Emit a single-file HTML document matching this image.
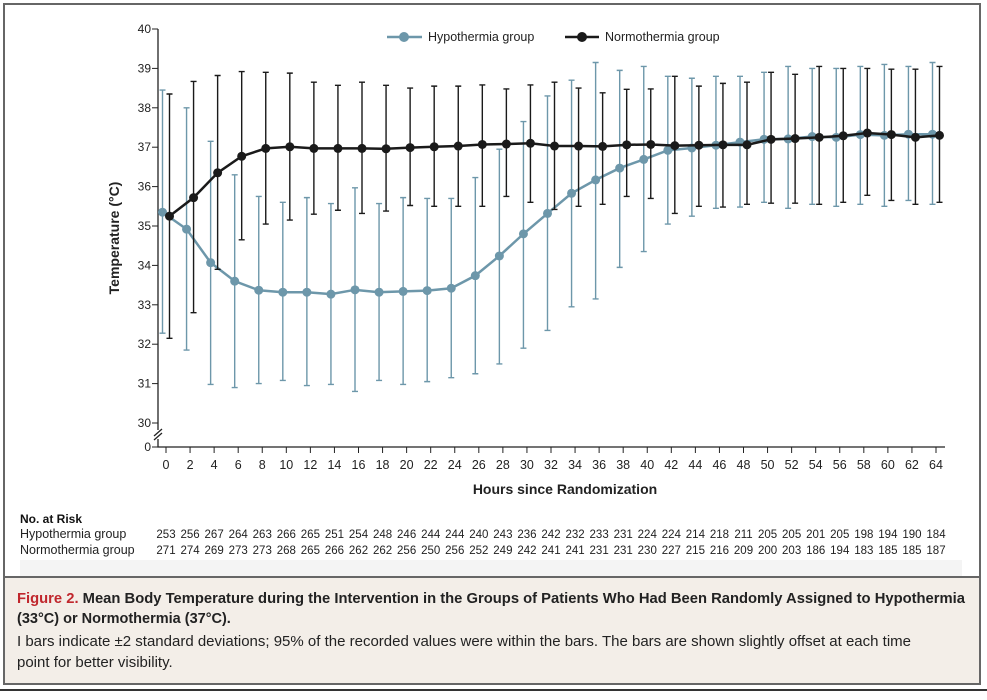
<!DOCTYPE html>
<html><head><meta charset="utf-8"><style>
html,body{margin:0;padding:0;background:#fff;}
body{width:987px;height:695px;overflow:hidden;font-family:"Liberation Sans",sans-serif;}
</style></head><body>
<svg id="chart" width="987" height="695" viewBox="0 0 987 695" xmlns="http://www.w3.org/2000/svg" font-family="Liberation Sans, sans-serif">
<rect x="4" y="4" width="976" height="680" fill="#fff" stroke="#666" stroke-width="2"/>
<rect x="20" y="560" width="942" height="16" fill="#f4f4f4"/>
<rect x="4" y="577" width="976" height="107" fill="#f3eee8" stroke="#666" stroke-width="2"/>
<line x1="0" y1="690" x2="987" y2="690" stroke="#333" stroke-width="2"/>
<g id="plot"></g>
<text x="20" y="523" font-size="12" font-weight="bold" fill="#111">No. at Risk</text>
<text x="20" y="538" font-size="12.5" fill="#222">Hypothermia group</text>
<text x="20" y="554" font-size="12.5" fill="#222">Normothermia group</text>
<text x="17" y="603" font-size="14.5" font-weight="bold" fill="#222" textLength="948" lengthAdjust="spacingAndGlyphs"><tspan fill="#c0272d">Figure 2.</tspan> Mean Body Temperature during the Intervention in the Groups of Patients Who Had Been Randomly Assigned to Hypothermia</text>
<text x="17" y="623" font-size="14.5" font-weight="bold" fill="#222">(33°C) or Normothermia (37°C).</text>
<text x="17" y="646" font-size="15" fill="#222">I bars indicate ±2 standard deviations; 95% of the recorded values were within the bars. The bars are shown slightly offset at each time</text>
<text x="17" y="667" font-size="15" fill="#222">point for better visibility.</text>
</svg>
<script>
const hours=[0,2,4,6,8,10,12,14,16,18,20,22,24,26,28,30,32,34,36,38,40,42,44,46,48,50,52,54,56,58,60,62,64];
const hypoMean=[35.35,34.92,34.07,33.6,33.37,33.32,33.32,33.27,33.38,33.32,33.34,33.36,33.42,33.74,34.24,34.8,35.32,35.83,36.17,36.47,36.69,36.92,36.98,37.05,37.13,37.2,37.21,37.27,37.25,37.32,37.3,37.33,37.33];
const hypoUpper=[38.45,38.0,37.15,36.3,35.75,35.6,35.72,35.57,35.97,35.57,35.72,35.7,35.7,36.23,36.95,37.65,38.3,38.7,39.15,38.95,39.05,38.8,38.75,38.8,38.8,38.9,39.05,39.0,39.0,39.05,39.1,39.05,39.15];
const hypoLower=[32.28,31.85,30.98,30.9,31.0,31.08,30.95,30.98,30.8,31.08,30.98,31.05,31.15,31.25,31.5,31.9,32.35,32.95,33.15,33.95,34.35,35.05,35.25,35.45,35.48,35.6,35.45,35.55,35.5,35.55,35.5,35.65,35.55];
const normMean=[35.25,35.72,36.35,36.77,36.97,37.01,36.97,36.97,36.97,36.96,36.99,37.01,37.03,37.07,37.08,37.1,37.03,37.03,37.02,37.06,37.07,37.04,37.05,37.06,37.06,37.2,37.22,37.25,37.29,37.36,37.32,37.25,37.3];
const normUpper=[38.35,38.67,38.82,38.92,38.9,38.88,38.65,38.57,38.65,38.57,38.5,38.55,38.55,38.58,38.48,38.58,38.65,38.5,38.38,38.47,38.48,38.8,38.55,38.62,38.65,38.9,38.85,39.05,39.0,39.0,38.98,38.98,39.05];
const normLower=[32.15,32.8,33.9,34.65,35.05,35.15,35.3,35.4,35.32,35.38,35.52,35.5,35.5,35.5,35.75,35.6,35.42,35.5,35.55,35.75,35.7,35.32,35.5,35.48,35.55,35.58,35.58,35.55,35.6,35.78,35.65,35.55,35.6];
const hypoRisk=[253,256,267,264,263,266,265,251,254,248,246,244,244,240,243,236,242,232,233,231,224,224,214,218,211,205,205,201,205,198,194,190,184];
const normRisk=[271,274,269,273,273,268,265,266,262,262,256,250,256,252,249,242,241,241,231,231,230,227,215,216,209,200,203,186,194,183,185,185,187];
const yTicks=[30,31,32,33,34,35,36,37,38,39,40];

const NS="http://www.w3.org/2000/svg";
const svg=document.getElementById('chart');
const g=document.getElementById('plot');
const X=h=>166+h*(770/64);
const Y=v=>423-(v-30)*39.4;
function mk(tag,attrs,parent){const e=document.createElementNS(NS,tag);for(const k in attrs)e.setAttribute(k,attrs[k]);(parent||g).appendChild(e);return e;}

let e;
e=mk('path',{d:`M158,29 V430 M154,436 L162,429 M154,440 L162,433 M158,439 V447 H945`,stroke:'#222','stroke-width':1.3,fill:'none'});


yTicks.forEach(t=>{
  const l=mk('line',{x1:152,x2:158,y1:Y(t),y2:Y(t),stroke:'#222','stroke-width':1});
  
  
  const tx=mk('text',{x:151,y:Y(t)+4,'text-anchor':'end','font-size':12,fill:'#222'});tx.textContent=t;
  
  
});
e=mk('line',{x1:152,x2:158,y1:447,y2:447,stroke:'#222'});


e=mk('text',{x:151,y:451,'text-anchor':'end','font-size':12,fill:'#222'});e.textContent='0';


hours.forEach((h,i)=>{
  const l=mk('line',{x1:X(h),x2:X(h),y1:447,y2:453,stroke:'#222'});
  
  
  const tx=mk('text',{x:X(h),y:469,'text-anchor':'middle','font-size':12.5,fill:'#222'});tx.textContent=h;
  
  
  const r1=mk('text',{x:X(h),y:538,'text-anchor':'middle','font-size':11.5,fill:'#222'},svg);r1.textContent=hypoRisk[i];
  
  
  const r2=mk('text',{x:X(h),y:554,'text-anchor':'middle','font-size':11.5,fill:'#222'},svg);r2.textContent=normRisk[i];
  
  
});
e=mk('text',{x:565,y:494,'text-anchor':'middle','font-size':14,'font-weight':'bold',fill:'#222'});e.textContent='Hours since Randomization';


e=mk('text',{x:0,y:0,'text-anchor':'middle','font-size':14,'font-weight':'bold',fill:'#222',transform:'translate(119,238) rotate(-90)'});e.textContent='Temperature (°C)';



function series(mean,up,lo,off,color,name){
  const grp=mk('g',{});
  
  
  hours.forEach((h,i)=>{
    const x=X(h)+off;
    const b=mk('path',{d:`M${x},${Y(up[i])}V${Y(lo[i])}M${x-3},${Y(up[i])}h6M${x-3},${Y(lo[i])}h6`,stroke:color,'stroke-width':1.4,fill:'none'},grp);
    
    
  });
  const pl=mk('polyline',{points:hours.map((h,i)=>`${X(h)+off},${Y(mean[i])}`).join(' '),fill:'none',stroke:color,'stroke-width':2.5},grp);
  
  
  hours.forEach((h,i)=>{
    const c=mk('circle',{cx:X(h)+off,cy:Y(mean[i]),r:4.5,fill:color},grp);
    
    
  });
}
series(hypoMean,hypoUpper,hypoLower,-3.5,'#6d97aa','hypothermia');
series(normMean,normUpper,normLower,3.5,'#1a1a1a','normothermia');

e=mk('g',{});


const lg=e;
let le=mk('line',{x1:387,x2:422,y1:37,y2:37,stroke:'#6d97aa','stroke-width':2.5},lg);


le=mk('circle',{cx:404,cy:37,r:5,fill:'#6d97aa'},lg);


le=mk('text',{x:428,y:41,'font-size':12.5,fill:'#222'},lg);le.textContent='Hypothermia group';


le=mk('line',{x1:565,x2:599,y1:37,y2:37,stroke:'#1a1a1a','stroke-width':2.5},lg);


le=mk('circle',{cx:582,cy:37,r:5,fill:'#1a1a1a'},lg);


le=mk('text',{x:605,y:41,'font-size':12.5,fill:'#222'},lg);le.textContent='Normothermia group';


</script>
</body></html>
